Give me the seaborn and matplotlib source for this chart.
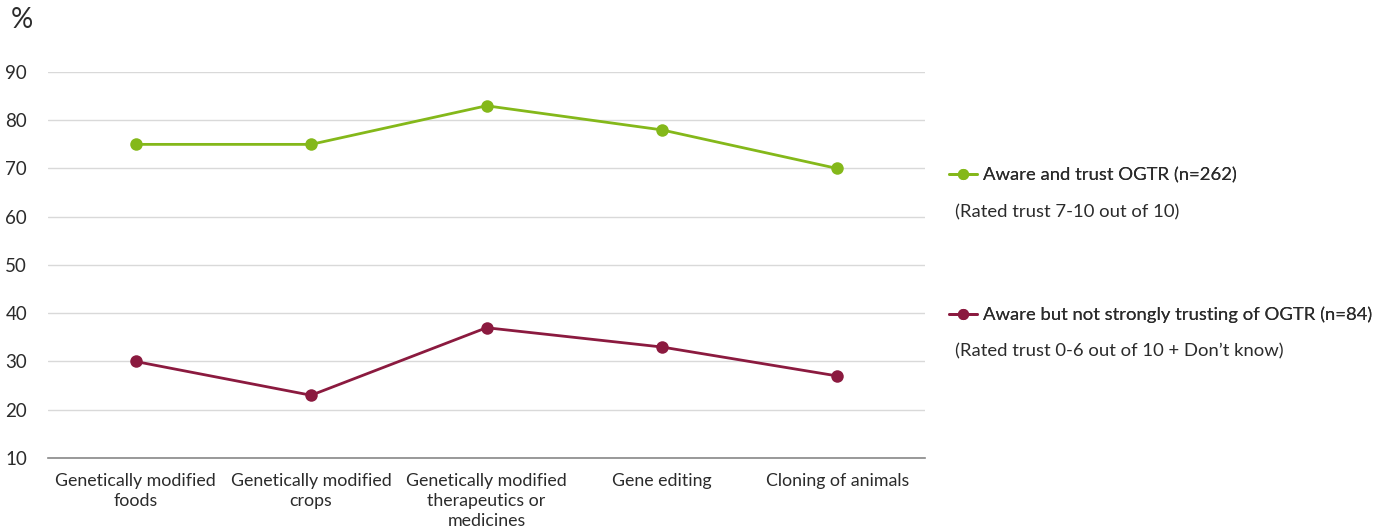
import seaborn as sns
import matplotlib.pyplot as plt
import pandas as pd
from matplotlib.lines import Line2D

categories = ['Genetically modified\nfoods', 'Genetically modified\ncrops',
              'Genetically modified\ntherapeutics or\nmedicines', 'Gene editing', 'Cloning of animals']
trust_vals = [75, 75, 83, 78, 70]
distrust_vals = [30, 23, 37, 33, 27]
series_names = ['Aware and trust OGTR (n=262)', 'Aware but not strongly trusting of OGTR (n=84)']
series_notes = ['(Rated trust 7-10 out of 10)', '(Rated trust 0-6 out of 10 + Don\u2019t know)']
colors = ['#84b81a', '#8b1a3f']

sns.set_style("white")
plt.rcParams['font.family'] = ['Lato', 'DejaVu Sans']
txt = '#2b2b2b'

df = pd.DataFrame({
    'pos': list(range(len(categories))) * 2,
    'value': trust_vals + distrust_vals,
    'group': [series_names[0]] * len(categories) + [series_names[1]] * len(categories),
})

fig = plt.figure(figsize=(13.94, 5.31), dpi=100)
ax = fig.add_axes([0.0344, 0.1375, 0.6292, 0.7269])

sns.lineplot(data=df, x='pos', y='value', hue='group', palette=colors, marker='o',
             markersize=9, markeredgewidth=0, linewidth=2, ax=ax, legend=False)

ax.set_xlim(-0.5, len(categories) - 0.5)
ax.set_ylim(10, 90)
ax.set_yticks(range(10, 91, 10))
ax.yaxis.grid(True, color='#d9d9d9', linewidth=1)
ax.set_axisbelow(True)
for s in ['top', 'right', 'left']:
    ax.spines[s].set_visible(False)
ax.spines['bottom'].set_color('#888888')
ax.spines['bottom'].set_linewidth(1.2)

ax.set_xticks([i - 0.5 for i in range(len(categories) + 1)])
ax.set_xticklabels([])
ax.set_xticks(range(len(categories)), minor=True)
ax.set_xticklabels(categories, minor=True, fontsize=12.8, color=txt, linespacing=1.3)
ax.tick_params(axis='x', which='major', direction='out', length=5, color='#888888', width=1)
ax.tick_params(axis='x', which='minor', length=0, pad=11)
ax.tick_params(axis='y', length=0, labelsize=13.5, colors=txt, pad=15)
ax.set_xlabel('')
ax.set_ylabel('')

fig.text(0.008, 0.962, '%', fontsize=20, color=txt, va='center', ha='left')

ypos = [0.669, 0.407]
for i in range(2):
    h = Line2D([0], [0], color=colors[i], marker='o', markersize=8, markeredgewidth=0, linewidth=2)
    leg = fig.legend([h], [series_names[i]], loc='center left', bbox_to_anchor=(0.681, ypos[i]),
                     frameon=False, fontsize=13.3, handlelength=1.5, handletextpad=0.3,
                     borderpad=0, borderaxespad=0, labelcolor=txt)
    fig.add_artist(leg)
    fig.text(0.685, ypos[i] - 0.069, series_notes[i], fontsize=13.3, color=txt, va='center', ha='left')

plt.savefig('out.png', dpi=100)
